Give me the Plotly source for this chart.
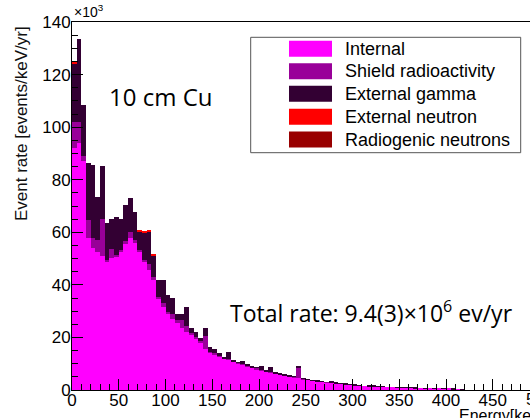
import numpy as np
import plotly.graph_objects as go

# 5 keV bins, 0-420 keV  (values in units of 10^3 events/keV/yr)
bin_edges = np.arange(0, 425, 5)
bin_centers = (bin_edges[:-1] + bin_edges[1:]) / 2

internal = [92, 94, 87, 58, 54, 52.5, 51, 48.7, 50.4, 50.6,
            52.5, 55.7, 58, 56.3, 52.5, 48.7, 45.5, 41.7, 34.8, 31.6,
            29, 27.1, 25.8, 23.5, 22.2, 21, 19.5, 18, 15.5, 14.3,
            13.5, 12.8, 11.8, 11.5, 10.8, 10.1, 9.6, 9.0, 8.4, 7.6,
            7.3, 7.0, 6.8, 6.2, 5.9, 5.6, 5.1, 4.9, 4.5, 4.1,
            3.9, 3.6, 3.4, 3.2, 2.9, 2.8, 2.6, 2.4, 2.2, 2.0,
            1.8, 1.7, 1.6, 1.5, 1.4, 1.3, 1.2, 1.1, 1.0, 1.0,
            0.9, 0.8, 0.8, 0.7, 0.7, 0.6, 0.6, 0.5, 0.5, 0.4,
            0.4, 0.3, 0.3, 0.2]

shield = [10, 8, 2, 6.6, 4, 4.5, 14, 0.8, 3.4, 0.6,
          0.7, 0.8, 2, 0.7, 0.7, 0.8, 2.5, 1.3, 0.7, 1.4,
          0.8, 1.9, 0.7, 3, 2.3, 0.5, 0.5, 0.5, 5, 0.2,
          0.5, 0.2, 0.3, 0.3, 0.2, 0.2, 0.3, 0.3, 0.2, 0.8,
          0.3, 0.2, 0.2, 0.1, 0.1, 0.1, 0.1, 0.1, 3.9, 0.1,
          0.0, 0.1, 0.0, 0.0, 0.1, 0.0, 0.0, 0.0, 0.0, 0.0,
          0.1, 0.0, 0.0, 0.0, 0.0, 0.0, 0.0, 0.0, 0.0, 0.0,
          0.0, 0.0, 0.0, 0.0, 0.0, 0.0, 0.0, 0.0, 0.0, 0.0,
          0.0, 0.0, 0.0, 0.0]

ext_gamma = [22.4, 31.5, 19.4, 21.6, 27.6, 16.5, 20.2, 14.1, 11.4, 14.7,
             11.8, 13.8, 12.9, 10.8, 7.1, 10.3, 12.2, 8.2, 6.2, 8.7,
             6.2, 6.0, 2.5, 2.3, 6.9, 2.2, 2.0, 1.4, 3.2, 1.8,
             1.7, 1.0, 0.4, 2.6, 0.2, 0.3, 1.1, 0.7, 0.3, 0.3,
             1.7, 0.2, 1.7, 0.2, 0.3, 0.2, 0.2, 0.1, 0.9, 0.2,
             0.1, 0.1, 0.1, 0.2, 0.0, 0.4, 0.1, 0.1, 0.1, 0.1,
             0.2, 0.1, 0.0, 0.1, 0.2, 0.2, 0.1, 0.0, 0.0, 0.1,
             0.1, 0.1, 0.1, 0.1, 0.0, 0.1, 0.0, 0.1, 0.0, 0.1,
             0.0, 0.1, 0.0, 0.1]

ext_neutron = [0.6] + [0.0] * 13 + [0.5, 0.4, 0.3, 0.4] + [0.0] * 66

radiogenic = [0.1] + [0.0] * 83

series_names = ["Internal", "Shield radioactivity", "External gamma",
                "External neutron", "Radiogenic neutrons"]
series_colors = ["#FF00FF", "#990099", "#330033", "#FF0000", "#990000"]
series_values = [internal, shield, ext_gamma, ext_neutron, radiogenic]

x_ticks = [0, 50, 100, 150, 200, 250, 300, 350, 400, 450]
y_ticks = [0, 20, 40, 60, 80, 100, 120, 140]

fig = go.Figure()
for name, color, vals in zip(series_names, series_colors, series_values):
    fig.add_trace(go.Bar(
        x=bin_centers, y=vals, width=5, name=name,
        marker=dict(color=color, line=dict(width=0)),
        showlegend=False,
    ))

L, T, B = 72, 22, 28
W, H = 530, 418
pw, ph = W - L, H - T - B
px_per_kev = 0.935
xmax = pw / px_per_kev

def px(xp):
    return (xp - L) / pw

def py(yp):
    return (H - B - yp) / ph

font_main = "Liberation Sans, Arial, sans-serif"

fig.update_layout(
    width=W, height=H,
    margin=dict(l=L, r=0, t=T, b=B, pad=0),
    barmode="stack", bargap=0,
    plot_bgcolor="white", paper_bgcolor="white",
    font=dict(family=font_main, size=17, color="black"),
    showlegend=False,
)
fig.update_xaxes(
    range=[0, xmax], tickvals=x_ticks, ticks="inside", ticklen=11,
    tickwidth=1, tickcolor="black", showline=True, linecolor="black",
    linewidth=1, mirror=True, showgrid=False, zeroline=False,
    tickfont=dict(size=17), ticklabelstandoff=-5,
    minor=dict(dtick=10, tick0=0, ticks="inside", ticklen=6,
               tickcolor="black", showgrid=False),
)
fig.update_yaxes(
    range=[0, 140], tickvals=y_ticks, ticks="inside", ticklen=11,
    tickwidth=1, tickcolor="black", showline=True, linecolor="black",
    linewidth=1, mirror=False, showgrid=False, zeroline=False,
    tickfont=dict(size=17), ticklabelstandoff=-3,
    minor=dict(dtick=5, tick0=0, ticks="inside", ticklen=5.5,
               tickcolor="black", showgrid=False),
)

annotations = [
    dict(text="×10<sup>3</sup>", x=0, y=1, xref="paper", yref="paper",
         xanchor="left", yanchor="bottom", showarrow=False,
         font=dict(size=14)),
    dict(text="Event rate [events/keV/yr]", textangle=-90,
         x=px(21), y=py(124), xref="paper", yref="paper",
         xanchor="center", yanchor="middle", showarrow=False,
         font=dict(size=17, color="#111111")),
    dict(text="Energy[keV]", x=px(456.5), y=py(405), xref="paper",
         yref="paper", xanchor="left", yanchor="top", showarrow=False,
         font=dict(size=16)),
    dict(text="500", x=px(540), y=py(399.5), xref="paper", yref="paper",
         xanchor="center", yanchor="middle", showarrow=False,
         font=dict(size=17)),
    dict(text="10 cm Cu", x=px(160), y=py(97), xref="paper", yref="paper",
         xanchor="center", yanchor="middle", showarrow=False,
         font=dict(family="Open Sans", size=24)),
    dict(text="Total rate: 9.4(3)×10<sup>6</sup> ev/yr", x=px(228),
         y=py(311.5), xref="paper", yref="paper", xanchor="left",
         yanchor="middle", showarrow=False,
         font=dict(family="Open Sans", size=23)),
]

shapes = [
    dict(type="rect", xref="paper", yref="paper",
         x0=px(250.7), x1=px(520.7), y0=py(152.7), y1=py(37.3),
         line=dict(color="#555555", width=1), fillcolor="white",
         layer="above"),
]
row_y = [48.7, 71.2, 93.8, 116.7, 139.5]
for name, color, ry in zip(series_names, series_colors, row_y):
    shapes.append(dict(type="rect", xref="paper", yref="paper",
                       x0=px(289), x1=px(332), y0=py(ry + 8), y1=py(ry - 8),
                       line=dict(width=0), fillcolor=color, layer="above"))
    annotations.append(dict(text=name, x=px(342.5), y=py(ry), xref="paper",
                            yref="paper", xanchor="left", yanchor="middle",
                            showarrow=False, font=dict(size=18)))

fig.update_layout(shapes=shapes, annotations=annotations)
fig.write_html("out.html")
